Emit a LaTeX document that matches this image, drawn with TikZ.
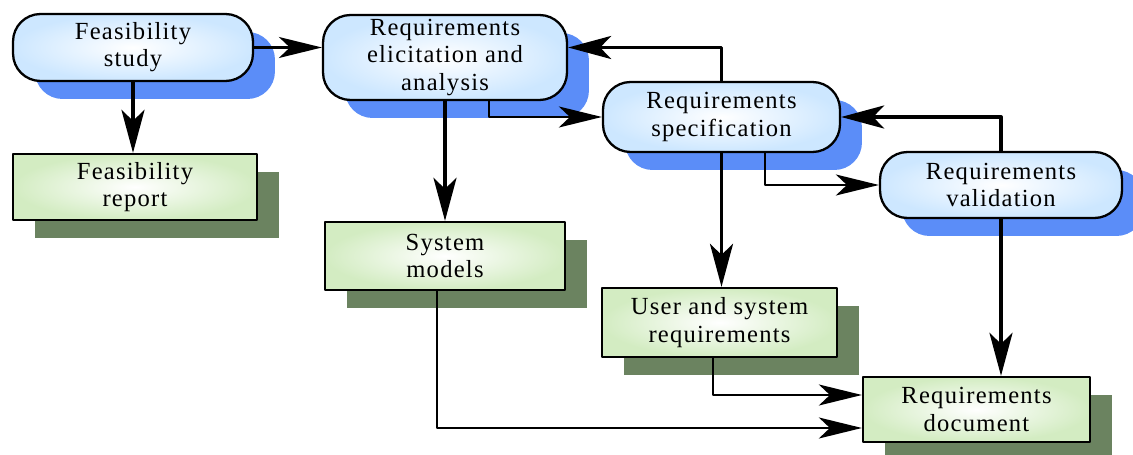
\documentclass[tikz,border=0pt]{standalone}
\usepackage{fontspec}
\setmainfont{Liberation Serif}[LetterSpace=5]
\usetikzlibrary{arrows.meta,shadows}
\definecolor{shblue}{HTML}{5B8DF8}
\definecolor{shgreen}{HTML}{6B8360}
\definecolor{fillblue}{HTML}{CDE7FF}
\definecolor{fillgreen}{HTML}{D3ECC2}
\begin{document}
\begin{tikzpicture}[x=0.02cm, y=-0.02cm, line join=round,
	font=\fontsize{14pt}{15.5pt}\selectfont,
	box/.style={draw, line width=1.3pt, align=center, inner sep=0pt},
	phase/.style={box, rounded corners=0.55cm, inner color=white, outer color=fillblue,
		general shadow={fill=shblue, shadow xshift=0.44cm, shadow yshift=-0.36cm}},
	doc/.style={box, inner color=white, outer color=fillgreen,
		general shadow={fill=shgreen, shadow xshift=0.44cm, shadow yshift=-0.36cm}},
	flow/.style={line width=2.2pt, -{Stealth[length=0.86cm, width=0.46cm, inset=0.22cm]}},
	link/.style={line width=1.3pt, -{Stealth[length=0.86cm, width=0.42cm, inset=0.22cm]}}]
	\useasboundingbox (0,0) rectangle (1133,455);
	% activities
	\node[phase, minimum width=4.8cm, minimum height=1.34cm] (fstudy) at (133,47.5) {Feasibility\\study};
	\node[phase, minimum width=4.88cm, minimum height=1.7cm] (elicit) at (445,57.5) {Requirements\\elicitation and\\analysis};
	\node[phase, minimum width=4.74cm, minimum height=1.4cm] (spec) at (721.5,117) {Requirements\\specification};
	\node[phase, minimum width=4.84cm, minimum height=1.32cm] (valid) at (1001,185) {Requirements\\validation};
	% documents
	\node[doc, minimum width=4.88cm, minimum height=1.32cm] (freport) at (135,187) {Feasibility\\report};
	\node[doc, minimum width=4.8cm, minimum height=1.36cm] (models) at (445,256) {System\\models};
	\node[doc, minimum width=4.7cm, minimum height=1.38cm] (ureq) at (719.5,322.5) {User and system\\requirements};
	\node[doc, minimum width=4.54cm, minimum height=1.3cm] (rdoc) at (976.5,409.5) {Requirements\\document};
	% arrows
	\draw[link] (fstudy.east) -- (fstudy.east -| elicit.west);
	\draw[flow] (fstudy.south) -- (fstudy.south |- freport.north);
	\draw[flow] (elicit.south) -- (elicit.south |- models.north);
	\draw[link] ([xshift=0.88cm]elicit.south) |- (spec.west);
	\draw[flow] (spec.north) |- ([yshift=0.2cm]elicit.east);
	\draw[link] ([xshift=0.87cm]spec.south) |- (valid.west);
	\draw[flow] (valid.north) |- (spec.east);
	\draw[flow] (spec.south) -- (spec.south |- ureq.north);
	\draw[flow] (valid.south) -- (valid.south |- rdoc.north);
	\draw[link] ([xshift=-0.13cm]ureq.south) |- ([yshift=0.29cm]rdoc.west);
	\draw[link] ([xshift=-0.16cm]models.south) |- ([yshift=-0.37cm]rdoc.west);
\end{tikzpicture}
\end{document}
